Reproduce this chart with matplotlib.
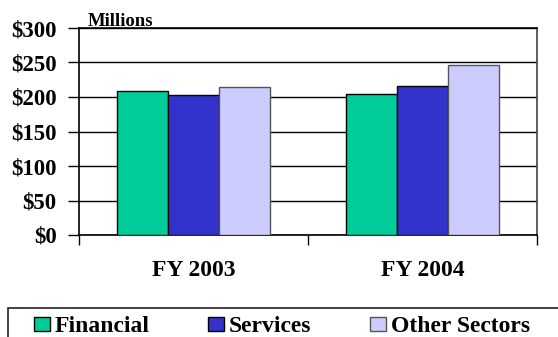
import numpy as np
import matplotlib
matplotlib.use('Agg')
import matplotlib.pyplot as plt
from matplotlib.patches import Rectangle

# Data (millions of dollars)
years = ['FY 2003', 'FY 2004']
sectors = ['Financial', 'Services', 'Other Sectors']
financial = [209, 204]
services = [203, 215.5]
other_sectors = [215, 247]
y_ticks = [0, 50, 100, 150, 200, 250, 300]
y_tick_labels = ['$0', '$50', '$100', '$150', '$200', '$250', '$300']

colors = ['#00CC99', '#3333CC', '#CCCCFF']
edges = ['#000000', '#000000', '#555555']

plt.rcParams['font.family'] = ['Liberation Serif', 'DejaVu Serif']
plt.rcParams['font.weight'] = 'bold'

fig = plt.figure(figsize=(5.58, 3.37), dpi=100)
ax = fig.add_axes([79 / 558, 102 / 337, 458 / 558, 207 / 337])

x = np.arange(len(years))
width = 0.223
series = [financial, services, other_sectors]
for i, vals in enumerate(series):
    ax.bar(x + (i - 1) * width, vals, width, color=colors[i],
           edgecolor=edges[i], linewidth=1.0, label=sectors[i], zorder=3)

ax.set_xlim(-0.5, 1.5)
ax.set_ylim(0, 300)

# y axis
ax.set_yticks(y_ticks)
ax.set_yticklabels(y_tick_labels, fontsize=16.5, fontweight='bold')
ax.yaxis.grid(True, color='black', linewidth=1.0, zorder=0)
ax.tick_params(axis='y', length=8, width=1.0, pad=8, direction='out')

# x axis: ticks at category boundaries, labels at centres
ax.set_xticks([-0.5, 0.5, 1.5])
ax.set_xticklabels(['', '', ''])
ax.set_xticks(x, minor=True)
ax.set_xticklabels(years, minor=True, fontsize=17, fontweight='bold')
ax.tick_params(axis='x', which='major', length=7, width=1.0, direction='out')
ax.tick_params(axis='x', which='minor', length=0, pad=18)

for s in ['left', 'bottom', 'top']:
    ax.spines[s].set_color('black')
    ax.spines[s].set_linewidth(1.2)
ax.spines['right'].set_color('#444444')
ax.spines['right'].set_linewidth(1.2)

fig.text(88 / 558, (337 - 26) / 337, 'Millions', fontsize=13.5, fontweight='bold',
         ha='left', va='baseline')

# legend frame (runs off the bottom/right edge like the original)
fig.patches.append(Rectangle((8 / 558, -0.2), 1.2, 0.2 + (337 - 308) / 337,
                             transform=fig.transFigure, fill=False,
                             edgecolor='#222222', linewidth=1.2))

handles, labels = ax.get_legend_handles_labels()
fig.legend(handles, labels, loc='center left', bbox_to_anchor=(22 / 558, (337 - 327) / 337),
           ncol=3, frameon=False, prop={'weight': 'bold', 'size': 17},
           borderpad=0, handlelength=0.68, handleheight=0.55, handletextpad=0.22,
           columnspacing=2.45)

fig.savefig('out.png', dpi=100)
